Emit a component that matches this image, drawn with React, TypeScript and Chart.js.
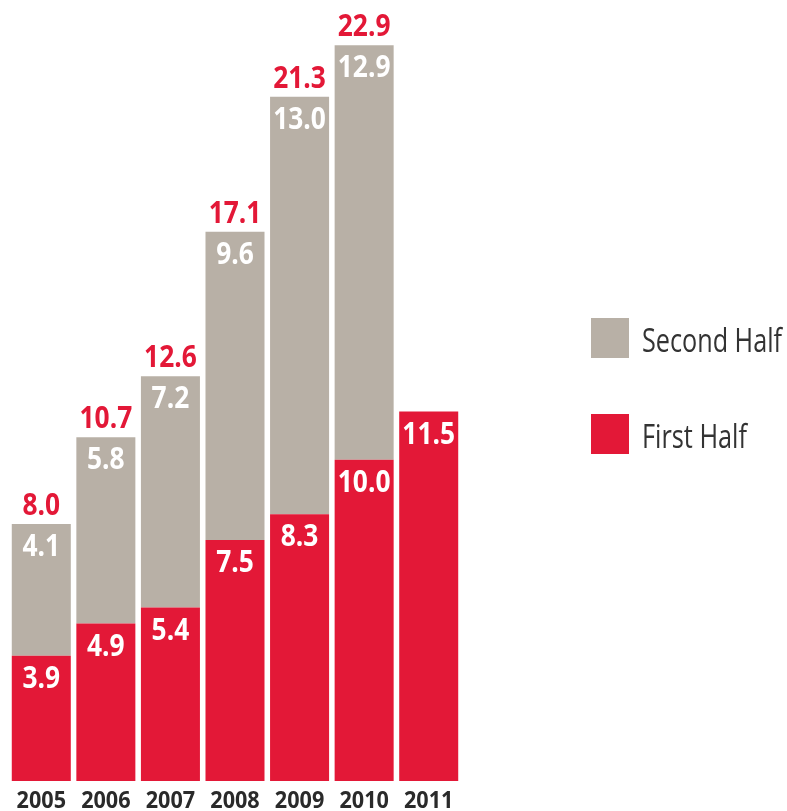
import React, { useEffect, useRef } from "react";
import { Chart, registerables } from "chart.js";

Chart.register(...registerables);

const years = ["2005", "2006", "2007", "2008", "2009", "2010", "2011"];
const firstHalf = [3.9, 4.9, 5.4, 7.5, 8.3, 10.0, 11.5];
const secondHalf: (number | null)[] = [4.1, 5.8, 7.2, 9.6, 13.0, 12.9, null];
const totals: (number | null)[] = [8.0, 10.7, 12.6, 17.1, 21.3, 22.9, null];
const legendLabels = ["Second Half", "First Half"];

const RED = "#E31837";
const GRAY = "#B8B0A6";
const DARK = "#2A2A2A";

function drawScaled(
  ctx: CanvasRenderingContext2D,
  text: string,
  x: number,
  y: number,
  font: string,
  color: string,
  scaleX: number,
  align: "center" | "left"
) {
  ctx.save();
  ctx.font = font;
  ctx.fillStyle = color;
  ctx.textBaseline = "alphabetic";
  const w = ctx.measureText(text).width * scaleX;
  const left = align === "center" ? x - w / 2 : x;
  ctx.translate(left, y);
  ctx.scale(scaleX, 1);
  ctx.textAlign = "left";
  ctx.fillText(text, 0, 0);
  ctx.restore();
}

const labelPlugin = {
  id: "labelPlugin",
  afterDatasetsDraw(chart: any) {
    const ctx: CanvasRenderingContext2D = chart.ctx;
    const yScale = chart.scales.y;
    const valFont = "bold 31px 'Open Sans'";
    chart.data.datasets.forEach((ds: any, di: number) => {
      const meta = chart.getDatasetMeta(di);
      meta.data.forEach((bar: any, i: number) => {
        const v = ds.data[i];
        if (v === null || v === undefined) return;
        drawScaled(ctx, v.toFixed(1), bar.x, bar.y + 32, valFont, "#FFFFFF", 0.85, "center");
      });
    });
    const meta0 = chart.getDatasetMeta(0);
    totals.forEach((t, i) => {
      if (t === null) return;
      const x = meta0.data[i].x;
      const top = yScale.getPixelForValue(t);
      drawScaled(ctx, t.toFixed(1), x, top - 9, valFont, RED, 0.85, "center");
    });
    years.forEach((yr, i) => {
      const x = meta0.data[i].x;
      drawScaled(ctx, yr, x, 808, "bold 24px 'Open Sans'", DARK, 0.9, "center");
    });
    // legend
    const items = [
      { label: legendLabels[0], color: GRAY, boxTop: 318, baseline: 352, width: 140 },
      { label: legendLabels[1], color: RED, boxTop: 414, baseline: 448, width: 105 },
    ];
    items.forEach((it) => {
      ctx.save();
      ctx.fillStyle = it.color;
      ctx.fillRect(591, it.boxTop, 38, 40);
      ctx.restore();
      const font = "33px 'Open Sans'";
      ctx.save();
      ctx.font = font;
      const mw = ctx.measureText(it.label).width;
      ctx.restore();
      drawScaled(ctx, it.label, 642, it.baseline, font, "#333333", it.width / mw, "left");
    });
  },
};

export default function App() {
  const ref = useRef<HTMLCanvasElement | null>(null);
  useEffect(() => {
    if (!ref.current) return;
    const chart = new Chart(ref.current, {
      type: "bar",
      data: {
        labels: years,
        datasets: [
          {
            label: "First Half",
            data: firstHalf,
            backgroundColor: RED,
            borderWidth: 0,
            barPercentage: 0.914,
            categoryPercentage: 1,
          },
          {
            label: "Second Half",
            data: secondHalf,
            backgroundColor: GRAY,
            borderWidth: 0,
            barPercentage: 0.914,
            categoryPercentage: 1,
          },
        ],
      },
      options: {
        responsive: false,
        animation: false,
        layout: { padding: { left: 9, right: 326, top: 10, bottom: 30 } },
        plugins: { legend: { display: false }, tooltip: { enabled: false } },
        scales: {
          x: { stacked: true, display: false, grid: { display: false } },
          y: { stacked: true, display: false, min: 0, max: 24, grid: { display: false } },
        },
      },
      plugins: [labelPlugin],
    });
    return () => chart.destroy();
  }, []);
  return (
    <div style={{ position: "absolute", left: 0, top: 0, width: 787, height: 811, background: "#fff" }}>
      <canvas ref={ref} width={787} height={811} style={{ display: "block" }} />
    </div>
  );
}
